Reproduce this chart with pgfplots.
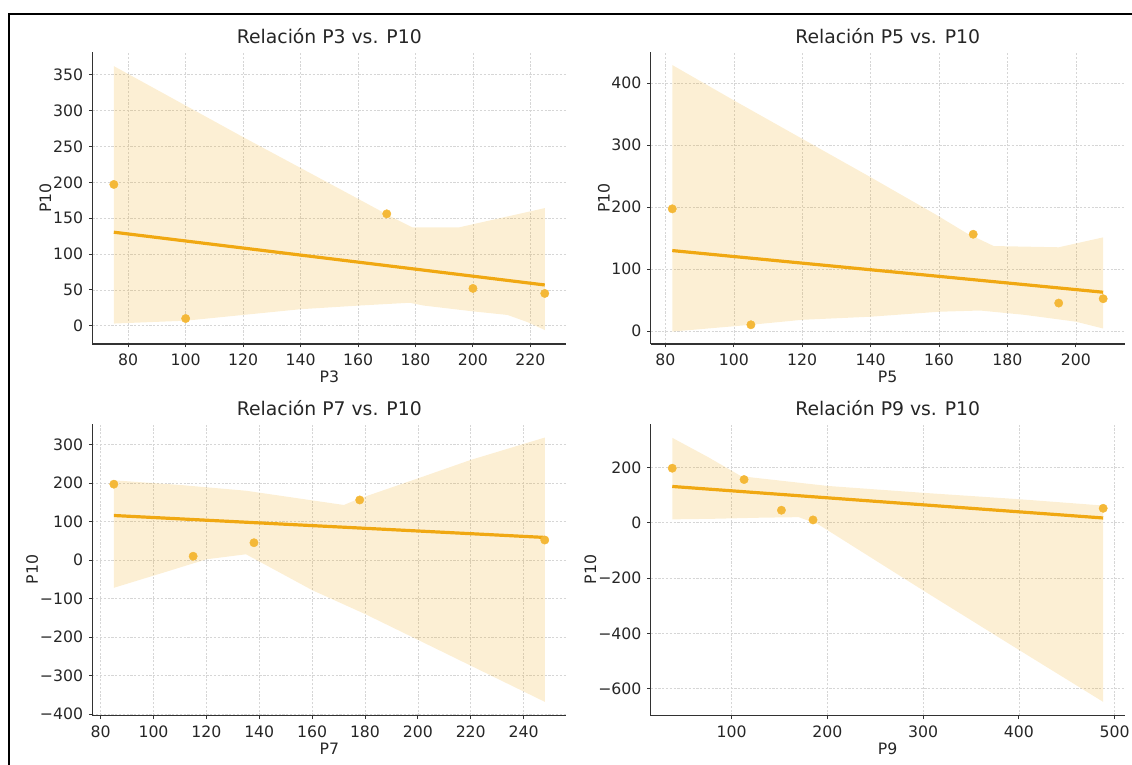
\documentclass[border=0pt]{standalone}
\usepackage{fontspec}
\setmainfont{DejaVu Sans}
\usepackage{pgfplots}
\pgfplotsset{compat=1.18}
\definecolor{lineC}{RGB}{240,168,18}
\definecolor{ptC}{RGB}{244,184,56}
\definecolor{axC}{RGB}{50,50,50}
\definecolor{txtC}{RGB}{38,38,38}
\pgfplotsset{
  myax/.style={
    scale only axis, width=474pt, height=292pt, anchor=south west,
    axis x line*=bottom, axis y line*=left,
    axis line style={draw=axC, line width=1.2pt},
    tick align=outside, major tick length=3.5pt,
    tick style={draw=axC, line width=0.9pt},
    grid=major,
    major grid style={draw=black!16, dash pattern=on 2.2pt off 1.6pt, line width=0.55pt},
    tick label style={font=\fontsize{15.7}{18}\selectfont, text=txtC},
    xticklabel style={anchor=north, inner sep=0pt, yshift=-6pt},
    yticklabel style={anchor=east, inner sep=0pt, xshift=-5.6pt},
    label style={font=\fontsize{15.7}{18}\selectfont, text=txtC},
    xlabel style={at={(axis description cs:0.5,0)}, anchor=base, yshift=-38.5pt, inner sep=0pt},
    title style={at={(0.5,1)}, anchor=base, yshift=2pt, inner sep=0pt, font=\fontsize{18.8}{22}\selectfont, text=txtC},
    ylabel={P10},
  },
  band/.style={fill=lineC, fill opacity=0.18, draw=none},
  regl/.style={draw=lineC, line width=3.2pt, no marks},
  pts/.style={only marks, mark=*, mark size=4.2pt, color=ptC, draw=ptC, fill=ptC},
}
\begin{document}
\begin{tikzpicture}[x=1pt,y=1pt]
\useasboundingbox (0,0) rectangle (1132,765);
% ---------------- P3 ----------------
\begin{axis}[myax, at={(92.3pt,421pt)},
  xmin=67.5, xmax=232.5, ymin=-25.5, ymax=381.7,
  xtick={80,100,120,140,160,180,200,220}, xticklabels={80,100,120,140,160,180,200,220},
  ytick={0,50,100,150,200,250,300,350}, yticklabels={0,50,100,150,200,250,300,350},
  title={Relación P3 vs. P10}, xlabel={P3},
  ylabel style={at={([xshift=-41.2pt]axis description cs:0,0.5)}, anchor=base, inner sep=0pt}]
\addplot[band] coordinates {(75,362) (100,307) (120,263) (140,220) (160,177) (172,151) (179,137) (195,137) (205,146) (225,164)
  (225,-6) (219,5) (212,15) (200,20) (183,28) (178,32) (160,28) (140,23) (120,15) (100,7) (75,3)} -- cycle;
\addplot[regl] coordinates {(75,130.4) (225,56.8)};
\addplot[pts] coordinates {(75,197) (100,10) (170,156) (200,52) (225,45)};
\end{axis}
% ---------------- P5 ----------------
\begin{axis}[myax, at={(650.7pt,421pt)},
  xmin=75.7, xmax=214.3, ymin=-21, ymax=450,
  xtick={80,100,120,140,160,180,200}, xticklabels={80,100,120,140,160,180,200},
  ytick={0,100,200,300,400}, yticklabels={0,100,200,300,400},
  title={Relación P5 vs. P10}, xlabel={P5},
  ylabel style={at={([xshift=-41.2pt]axis description cs:0,0.5)}, anchor=base, inner sep=0pt}]
\addplot[band] coordinates {(82,429) (100,372) (120,310) (140,248) (159,188) (168,158) (176,137) (195,135) (208,151)
  (208,4) (200,15) (185,26) (172,33) (160,31) (140,23) (120,18) (105,10) (82,-1)} -- cycle;
\addplot[regl] coordinates {(82,129.7) (208,62.5)};
\addplot[pts] coordinates {(82,197) (105,10) (170,156) (195,45) (208,52)};
\end{axis}
% ---------------- P7 ----------------
\begin{axis}[myax, at={(92.3pt,49.3pt)},
  xmin=76.85, xmax=256.15, ymin=-404, ymax=354,
  xtick={80,100,120,140,160,180,200,220,240}, xticklabels={80,100,120,140,160,180,200,220,240},
  ytick={-400,-300,-200,-100,0,100,200,300}, yticklabels={−400,−300,−200,−100,0,100,200,300},
  title={Relación P7 vs. P10}, xlabel={P7},
  ylabel style={at={([xshift=-54.5pt]axis description cs:0,0.5)}, anchor=base, inner sep=0pt}]
\addplot[band] coordinates {(85,207) (110,195) (135,180) (172,143) (178,160) (200,212) (220,260) (248,318)
  (248,-368) (200,-207) (180,-140) (160,-78) (135,15) (120,2) (105,-30) (85,-72)} -- cycle;
\addplot[regl] coordinates {(85,115.7) (248,58.7)};
\addplot[pts] coordinates {(85,197) (115,10) (138,45) (178,156) (248,52)};
\end{axis}
% ---------------- P9 ----------------
\begin{axis}[myax, at={(650.7pt,49.3pt)},
  xmin=15.5, xmax=510.5, ymin=-698, ymax=358,
  xtick={100,200,300,400,500}, xticklabels={100,200,300,400,500},
  ytick={-600,-400,-200,0,200}, yticklabels={−600,−400,−200,0,200},
  title={Relación P9 vs. P10}, xlabel={P9},
  ylabel style={at={([xshift=-54.5pt]axis description cs:0,0.5)}, anchor=base, inner sep=0pt}]
\addplot[band] coordinates {(38,307) (75,238) (110,168) (200,133) (300,108) (400,85) (488,62)
  (488,-648) (400,-460) (300,-245) (190,-5) (170,20) (130,18) (80,14) (38,12)} -- cycle;
\addplot[regl] coordinates {(38,131) (488,17)};
\addplot[pts] coordinates {(38,197) (113,156) (152,45) (185,10) (488,52)};
\end{axis}
% frame
\draw[line width=2.2pt, black] (9,0) -- (9,751.3) -- (1132,751.3);
\end{tikzpicture}
\end{document}
